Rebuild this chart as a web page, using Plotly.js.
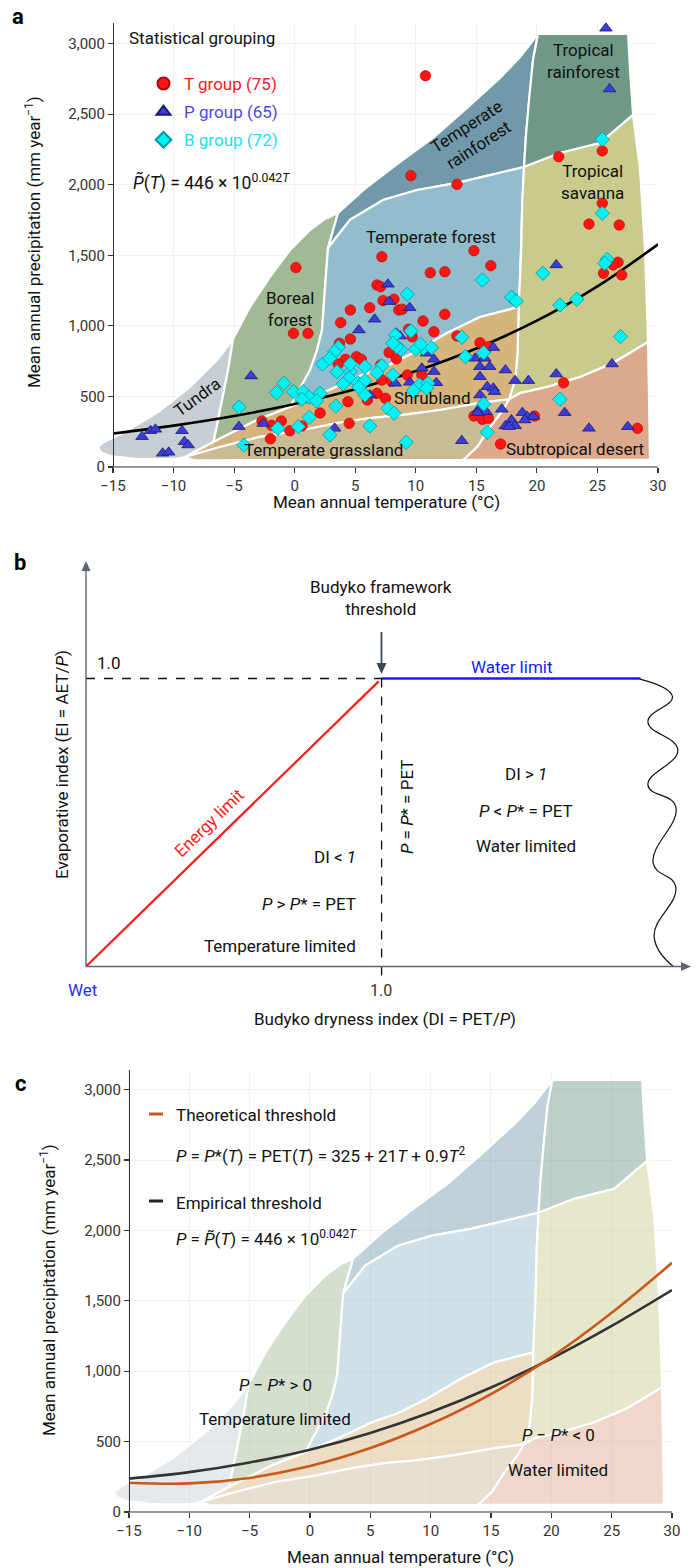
<!DOCTYPE html>
<html><head><meta charset="utf-8">
<script src="https://cdn.plot.ly/plotly-3.0.1.min.js"></script>
<style>html,body{margin:0;padding:0;background:#fff}</style>
</head><body><div id="chart" style="width:698px;height:1568px"></div>
<script>
// ---------------- data ----------------
// Panel a: statistical groups (mean annual temperature °C, mean annual precipitation mm/yr)
const tGroupT = [10.8,9.6,13.4,25.4,21.8,25.4,24.3,26.8,14.8,7.2,16.2,11.2,12.4,0.1,6.8,7.1,7.3,8.2,6.2,4.6,8.6,8.9,3.8,10.6,12.4,11.5,-0.1,1.1,4.6,3.7,9.4,9.7,13.4,15.3,16.0,7.8,8.4,4.2,5.1,5.5,3.6,7.1,9.3,10.5,7.5,6.0,6.8,4.4,2.1,4.5,-1.1,-1.9,-2.7,-0.4,0.6,-2.0,14.8,15.5,16.0,19.8,22.2,28.3,17.0,25.5,27.0,26.7,26.3,7.2,8.0];
const tGroupP = [2773,2065,2003,2240,2199,1869,1722,1715,1533,1490,1427,1377,1384,1413,1290,1278,1179,1189,1129,1113,1113,1118,1023,1035,1082,959,947,947,907,877,976,923,928,881,853,812,766,763,782,763,730,723,652,652,487,475,522,463,383,310,326,295,326,257,291,200,361,338,345,361,597,274,163,1373,1361,1451,1432,617,608];
const pGroupT = [25.7,26.0,21.6,7.7,7.8,9.5,6.6,5.3,8.4,8.7,10.9,11.5,11.5,10.5,8.3,9.5,11.7,14.9,15.7,15.3,16.1,15.9,16.4,17.4,18.2,19.3,15.3,16.4,15.3,16.5,15.2,15.8,17.1,15.1,18.8,19.2,19.7,21.6,22.3,17.9,17.4,18.2,17.7,19.0,24.3,27.5,13.8,26.2,6.2,3.3,-3.6,-4.6,-2.6,-12.6,-11.9,-11.5,-9.3,-9.1,-8.8,-10.9,-10.4];
const pGroupP = [3109,2679,1432,1295,1172,1129,1047,971,947,928,806,763,676,700,593,600,597,770,770,711,711,569,558,687,612,612,510,846,640,534,409,392,409,385,385,357,357,659,385,333,291,293,286,333,274,286,186,730,510,274,645,286,309,215,257,267,257,179,156,97,104];
const bGroupT = [25.4,25.4,15.5,9.3,17.9,18.3,20.5,21.9,23.3,25.8,25.6,26.9,9.6,8.3,13.8,15.6,14.1,10.6,11.3,10.0,10.4,8.75,8.45,8.1,7.2,8.1,10.3,11.0,9.8,10.9,7.7,8.2,15.6,21.9,15.9,9.2,5.8,3.4,1.2,6.2,2.9,-1.4,0.3,-4.6,-4.2,-0.9,-1.5,-0.1,0.7,1.2,2.1,1.8,0.6,2.3,3.5,4.6,4.5,4.0,5.2,5.8,5.3,6.8,5.8,4.6,3.6,3.3,2.9];
const bGroupP = [2322,1798,1325,1225,1203,1176,1373,1148,1189,1472,1444,924,964,935,919,810,782,841,846,834,870,833,852,877,718,652,581,593,541,558,416,381,446,480,246,175,510,432,352,291,227,274,286,425,156,593,527,534,534,494,522,468,480,730,675,675,629,588,597,612,565,668,711,730,848,817,770];

// Thresholds
const curveT = [-15,-10,-5,0,5,10,15,20,25,30];
const empiricalP = [237,293,361,446,551,680,840,1037,1280,1578];      // panel a
const empiricalPc = [237,283,352,443,561,708,884,1090,1322,1577];     // panel c
const theoreticalP = [208,203,242,326,454,625,838,1100,1415,1770];    // panel c

// Biome regions (T °C, P mm/yr)
const tundraT = [-5.09,-5.5,-6.0,-6.4,-6.7,-7.82,-9.05,-9.8,-12.8,-15.1,-16.0,-16.25,-15.6,-14.17,-11.37,-8.64,-6.41,-5.09];
const tundraP = [907,687,475,300,178,128,71,57,55,75,105,145,185,241,383,567,758,907];
const borealT = [-5.09,-3.69,-2.04,-0.38,1.27,2.51,3.58,2.75,2.51,2.26,1.85,1.27,0.28,-0.38,-3.11,-5.92,-6.7,-6.4,-6.0,-5.5,-5.09];
const borealP = [907,1134,1347,1538,1680,1758,1800,1552,1276,971,829,687,532,425,333,213,178,300,475,687,907];
const tempRainT = [3.58,5.97,8.70,11.42,14.23,16.96,18.61,20.09,19.68,19.35,19.10,18.94,15.55,13.41,10.10,7.30,4.57,2.75,3.58];
const tempRainP = [1800,1984,2162,2332,2544,2757,2906,3069,2884,2601,2353,2126,2055,2013,1963,1892,1751,1552,1800];
const tropRainT = [20.09,27.53,27.69,27.94,25.21,21.91,18.94,19.10,19.35,19.68,20.09];
const tropRainP = [3069,3069,2814,2495,2296,2225,2126,2353,2601,2884,3069];
const tempForestT = [2.75,4.57,7.30,10.10,13.41,15.55,18.94,18.8,18.7,18.6,18.5,15.31,12.58,9.77,7.30,5.15,2.34,-0.38,0.28,1.27,1.85,2.26,2.51,2.75];
const tempForestP = [1552,1751,1892,1963,2013,2055,2126,1892,1538,1300,1134,1063,950,808,702,638,524,425,532,687,829,971,1276,1552];
const savannaT = [18.94,21.91,25.21,27.94,28.52,28.93,29.18,26.29,23.56,20.84,18.61,17.7,18.2,18.4,18.5,18.6,18.7,18.8,18.94];
const savannaP = [2126,2225,2296,2495,2105,1538,886,737,638,567,524,480,617,808,1134,1300,1538,1892,2126];
const desertT = [17.7,18.61,20.84,23.56,26.29,29.18,29.26,29.34,13.9,15.06,16.13,17.2,17.7];
const desertP = [480,524,567,638,737,886,475,50,50,142,283,404,480];
const shrubT = [-9.05,-7.82,-6.7,-5.92,-3.11,-0.38,2.34,5.15,7.30,9.77,12.58,15.31,18.5,18.4,18.2,17.7,15.31,12.0,8.95,6.22,3.50,0.69,-2.86,-6.16,-9.05];
const shrubP = [71,128,178,213,333,425,524,638,702,808,950,1063,1134,808,617,480,454,404,369,347,312,262,213,142,71];
const grassT = [-9.05,-6.16,-2.86,0.69,3.50,6.22,8.95,12.0,15.31,17.7,17.2,16.13,15.06,13.9,-8.3,-9.05];
const grassP = [71,142,213,262,312,347,369,404,454,480,404,283,142,50,48,71];

// Panel b: Budyko schematic (DI, EI)
const energyDI = [0,0.99], energyEI = [0,0.99];
const waterDI = [1.0,1.876], waterEI = [1,1];
const waveDI = [1.874,1.984,1.901,2.002,1.901,1.995,1.919,1.995,1.922,1.987];
const waveEI = [0.998,0.937,0.850,0.752,0.630,0.555,0.358,0.277,0.103,0.0];

const xTicks = [-15,-10,-5,0,5,10,15,20,25,30];
const yTicks = [0,500,1000,1500,2000,2500,3000];

// ---------------- drawing ----------------
const W = 698, H = 1568;
const FONT = 'Roboto, "Liberation Sans", Arial, sans-serif';
const X = p => p / W, Y = p => 1 - p / H;

const biomes = [
  {t: tundraT, p: tundraP, c: [199,207,213]},
  {t: borealT, p: borealP, c: [162,185,149]},
  {t: tempRainT, p: tempRainP, c: [113,153,170]},
  {t: tropRainT, p: tropRainP, c: [111,153,134]},
  {t: tempForestT, p: tempForestP, c: [146,189,204]},
  {t: savannaT, p: savannaP, c: [201,203,140]},
  {t: desertT, p: desertP, c: [219,169,139]},
  {t: shrubT, p: shrubP, c: [213,180,125]},
  {t: grassT, p: grassP, c: [201,187,147]}
];

const traces = [];
function addBiomes(xa, ya, alpha) {
  biomes.forEach(b => traces.push({
    x: b.t, y: b.p, xaxis: xa, yaxis: ya, type: 'scatter', mode: 'lines',
    fill: 'toself', fillcolor: `rgba(${b.c[0]},${b.c[1]},${b.c[2]},${alpha})`,
    line: {color: '#ffffff', width: 2.2}, hoverinfo: 'skip', showlegend: false
  }));
}
addBiomes('x', 'y', 1);
traces.push({x: curveT, y: empiricalP, xaxis: 'x', yaxis: 'y', mode: 'lines',
  line: {color: '#000', width: 2.6, shape: 'spline'}, showlegend: false});

traces.push({x: tGroupT, y: tGroupP, xaxis: 'x', yaxis: 'y', mode: 'markers', legendgroup: 'T',
  name: '<span style="color:#ee1c1c">T group (75)</span>',
  marker: {symbol: 'circle', size: 10.5, color: '#ff1414', line: {color: '#b00000', width: 0.6}}});
traces.push({x: pGroupT, y: pGroupP, xaxis: 'x', yaxis: 'y', mode: 'markers', legendgroup: 'P',
  name: '<span style="color:#4a4adc">P group (65)</span>',
  marker: {symbol: 'triangle-up', size: 11, color: '#3c3cd8', line: {color: '#1a1a70', width: 0.8}}});
traces.push({x: bGroupT, y: bGroupP, xaxis: 'x', yaxis: 'y', mode: 'markers', legendgroup: 'B',
  name: '<span style="color:#1ae0f0">B group (72)</span>',
  marker: {symbol: 'diamond', size: 11, color: '#00f2f2', line: {color: '#0096a8', width: 0.8}}});

// Panel b
traces.push({x: energyDI, y: energyEI, xaxis: 'x2', yaxis: 'y2', mode: 'lines',
  line: {color: '#ff1a1a', width: 2.2}, showlegend: false});
traces.push({x: waterDI, y: waterEI, xaxis: 'x2', yaxis: 'y2', mode: 'lines',
  line: {color: '#1a1aff', width: 2.6}, showlegend: false});
traces.push({x: waveDI, y: waveEI, xaxis: 'x2', yaxis: 'y2', mode: 'lines',
  line: {color: '#111', width: 1.2, shape: 'spline', smoothing: 1.3}, showlegend: false});

// Panel c
addBiomes('x3', 'y3', 0.45);
traces.push({x: curveT, y: empiricalPc, xaxis: 'x3', yaxis: 'y3', mode: 'lines',
  line: {color: '#333', width: 2.6, shape: 'spline'}, showlegend: false});
traces.push({x: curveT, y: theoreticalP, xaxis: 'x3', yaxis: 'y3', mode: 'lines',
  line: {color: '#c9581b', width: 2.6, shape: 'spline'}, showlegend: false});

const tickFont = {family: FONT, size: 15, color: '#333'};
function xAx(domain, range, anchor) {
  return {domain, range, anchor, tickvals: xTicks, ticks: 'outside', ticklen: 5, tickwidth: 1.2,
    tickcolor: '#333', showline: false, showgrid: true, gridcolor: '#f2f2f2', zeroline: false,
    tickfont: tickFont, fixedrange: true};
}
function yAx(domain, range, pos) {
  return {domain, range, anchor: 'free', position: pos, tickvals: yTicks, tickformat: ',d',
    ticks: 'outside', ticklen: 5, tickwidth: 1.2, tickcolor: '#333', showline: true,
    linecolor: '#333', linewidth: 1.2, showgrid: true, gridcolor: '#f2f2f2', zeroline: false,
    tickfont: tickFont, fixedrange: true};
}

function A(text, x, y, o) {
  const base = {text, x: X(x), y: Y(y), xref: 'paper', yref: 'paper', showarrow: false,
    xanchor: 'center', yanchor: 'middle', font: {family: FONT, size: 17, color: '#111'}};
  return Object.assign(base, o || {});
}
const f = (size, color) => ({family: FONT, size, color: color || '#111'});

const annotations = [
  // panel letters
  A('<b>a</b>', 18, 16, {font: {family: FONT, size: 22, color: '#000'}}),
  A('<b>b</b>', 20, 562, {font: {family: FONT, size: 22, color: '#000'}}),
  A('<b>c</b>', 20, 1083, {font: {family: FONT, size: 22, color: '#000'}}),
  // panel a
  A('Statistical grouping', 127, 38, {xanchor: 'left', font: f(17)}),
  A('<i>P\u0303</i>(<i>T</i>) = 446 × 10<sup>0.042<i>T</i></sup>', 131, 182, {xanchor: 'left', font: f(17.5)}),
  A('Tropical<br>rainforest', 583, 61, {font: f(17)}),
  A('Temperate<br>rainforest', 472, 136, {textangle: -33, font: f(17)}),
  A('Tropical<br>savanna', 592, 182, {font: f(17)}),
  A('Temperate forest', 431, 237, {font: f(17)}),
  A('Boreal<br>forest', 290, 309, {font: f(17)}),
  A('Tundra', 197, 397, {textangle: -36, font: f(17)}),
  A('Shrubland', 432, 398, {font: f(17)}),
  A('Temperate grassland', 323, 450, {font: f(17)}),
  A('Subtropical desert', 575, 449, {font: f(17)}),
  A('Mean annual temperature (°C)', 386, 502, {font: f(17)}),
  A('Mean annual precipitation (mm year<sup>−1</sup>)', 33, 242, {textangle: -90, font: f(17)}),
  // panel b
  A('Budyko framework<br>threshold', 381, 598, {font: f(17)}),
  A('1.0', 95, 663, {xanchor: 'left', font: f(17)}),
  A('Water limit', 511, 667, {font: f(17, '#1a1aff')}),
  A('Energy limit', 209, 823, {textangle: -44, font: f(17, '#ff1a1a')}),
  A('<i>P</i> = <i>P</i>* = PET', 407, 807, {textangle: -90, font: f(17)}),
  A('DI &gt; <i>1</i>', 526, 774, {font: f(17)}),
  A('<i>P</i> &lt; <i>P</i>* = PET', 526, 811, {font: f(17)}),
  A('Water limited', 526, 846, {font: f(17)}),
  A('DI &lt; <i>1</i>', 358, 857, {xanchor: 'right', font: f(17)}),
  A('<i>P</i> &gt; <i>P</i>* = PET', 358, 904, {xanchor: 'right', font: f(17)}),
  A('Temperature limited', 358, 946, {xanchor: 'right', font: f(17)}),
  A('Wet', 82, 990, {font: f(17, '#2233ee')}),
  A('1.0', 381, 991, {font: f(16, '#333')}),
  A('Budyko dryness index (DI = PET/<i>P</i>)', 385, 1019, {font: f(17)}),
  A('Evaporative index (EI = AET/<i>P</i>)', 62, 765, {textangle: -90, font: f(17)}),
  // panel c
  A('Theoretical threshold', 174, 1115, {xanchor: 'left', font: f(17)}),
  A('<i>P</i> = <i>P</i>*(<i>T</i>) = PET(<i>T</i>) = 325 + 21<i>T</i> + 0.9<i>T</i><sup>2</sup>', 174, 1155, {xanchor: 'left', font: f(17)}),
  A('Empirical threshold', 174, 1203, {xanchor: 'left', font: f(17)}),
  A('<i>P</i> = <i>P\u0303</i>(<i>T</i>) = 446 × 10<sup>0.042<i>T</i></sup>', 174, 1238, {xanchor: 'left', font: f(17)}),
  A('<i>P</i> − <i>P</i>* &gt; 0', 275, 1385, {font: f(17)}),
  A('Temperature limited', 275, 1419, {font: f(17)}),
  A('<i>P</i> − <i>P</i>* &lt; 0', 558, 1435, {font: f(17)}),
  A('Water limited', 558, 1470, {font: f(17)}),
  A('Mean annual temperature (°C)', 400, 1557, {font: f(17)}),
  A('Mean annual precipitation (mm year<sup>−1</sup>)', 48, 1290, {textangle: -90, font: f(17)})
];

const P = (x, y) => `${X(x)},${Y(y)}`;
const AX = '#5b6577';
const shapes = [
  {type: 'line', xref: 'paper', yref: 'paper', x0: X(113), x1: X(658), y0: Y(467), y1: Y(467), line: {color: '#333', width: 1.2}},
  {type: 'line', xref: 'paper', yref: 'paper', x0: X(129), x1: X(672), y0: Y(1512), y1: Y(1512), line: {color: '#333', width: 1.2}},
  {type: 'line', xref: 'x2', yref: 'y2', x0: 0, x1: 1, y0: 1, y1: 1, line: {color: '#111', width: 1.3, dash: 'dash'}},
  {type: 'line', xref: 'x2', yref: 'y2', x0: 1, x1: 1, y0: 1, y1: -0.036, line: {color: '#111', width: 1.3, dash: 'dash'}},
  // panel b axes with arrow heads
  {type: 'line', xref: 'paper', yref: 'paper', x0: X(86), x1: X(684), y0: Y(966.5), y1: Y(966.5), line: {color: AX, width: 1.4}},
  {type: 'line', xref: 'paper', yref: 'paper', x0: X(86), x1: X(86), y0: Y(966.5), y1: Y(568), line: {color: AX, width: 1.4}},
  {type: 'path', xref: 'paper', yref: 'paper', path: `M${P(691,966.5)} L${P(681,962)} L${P(681,971)} Z`, fillcolor: AX, line: {width: 0}},
  {type: 'path', xref: 'paper', yref: 'paper', path: `M${P(86,561)} L${P(81.5,571)} L${P(90.5,571)} Z`, fillcolor: AX, line: {width: 0}},
  // Budyko threshold arrow
  {type: 'line', xref: 'paper', yref: 'paper', x0: X(381.5), x1: X(381.5), y0: Y(632), y1: Y(665), line: {color: '#3d4655', width: 1.8}},
  {type: 'path', xref: 'paper', yref: 'paper', path: `M${P(381.5,674)} L${P(376.5,663)} L${P(386.5,663)} Z`, fillcolor: '#3d4655', line: {width: 0}},
  // panel c legend keys
  {type: 'line', xref: 'paper', yref: 'paper', x0: X(149), x1: X(163), y0: Y(1114), y1: Y(1114), line: {color: '#c9581b', width: 3}},
  {type: 'line', xref: 'paper', yref: 'paper', x0: X(149), x1: X(163), y0: Y(1201), y1: Y(1201), line: {color: '#222', width: 3}}
];

const layout = {
  width: W, height: H, margin: {l: 0, r: 0, t: 0, b: 0},
  paper_bgcolor: '#fff', plot_bgcolor: 'rgba(0,0,0,0)',
  font: {family: FONT, size: 15, color: '#111'},
  showlegend: true,
  legend: {x: X(143), y: Y(66), xanchor: 'left', yanchor: 'top', bgcolor: 'rgba(0,0,0,0)',
    font: {family: FONT, size: 17}, tracegroupgap: 3, itemwidth: 31, itemsizing: 'constant'},
  xaxis: xAx([97.26 / W, 658 / W], [-16.3, 30], 'y'),
  yaxis: yAx([1 - 467 / H, 1 - 22.5 / H], [0, 3150], 113 / W),
  xaxis2: {domain: [86 / W, 691 / W], range: [0, 2.0467], anchor: 'y2', visible: false, fixedrange: true},
  yaxis2: {domain: [1 - 980.9 / H, 1 - 561.7 / H], range: [-0.05, 1.4056], anchor: 'x2', visible: false, fixedrange: true},
  xaxis3: xAx([115.7 / W, 672 / W], [-16.1, 30], 'y3'),
  yaxis3: yAx([1 - 1512 / H, 1 - 1070 / H], [0, 3140], 129 / W),
  annotations, shapes
};

Plotly.newPlot('chart', traces, layout, {staticPlot: true, displayModeBar: false});
</script></body></html>
